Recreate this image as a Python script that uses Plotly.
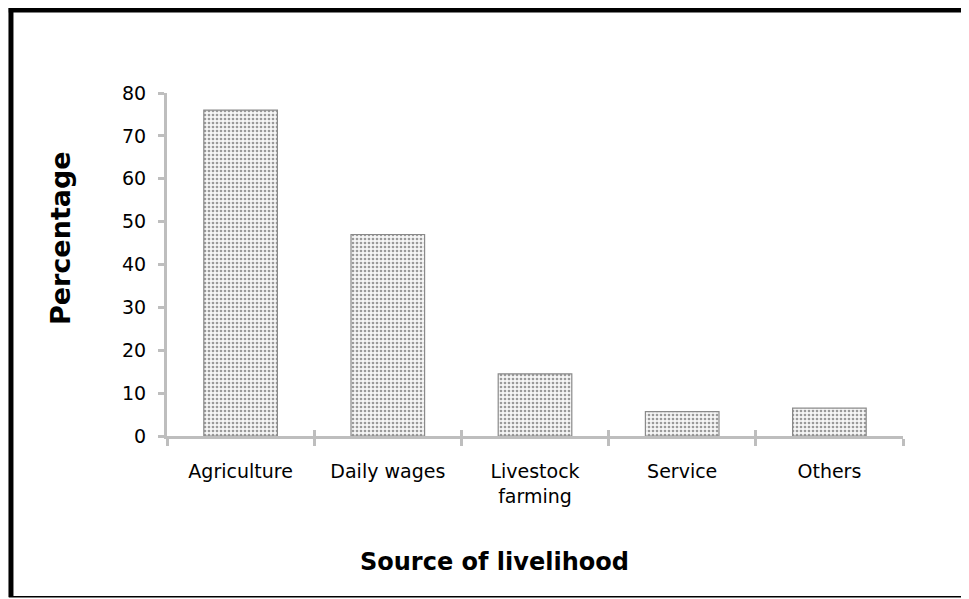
import plotly.graph_objects as go

categories = ["Agriculture", "Daily wages", "Livestock<br>farming", "Service", "Others"]
values = [76, 47, 14.5, 5.7, 6.5]
y_ticks = [0, 10, 20, 30, 40, 50, 60, 70, 80]

fig = go.Figure()
fig.add_trace(go.Bar(
    x=categories, y=values, width=0.5,
    marker=dict(
        color="#f6f6f6",
        line=dict(color="#8a8a8a", width=1.2),
        pattern=dict(shape=".", fgcolor="#9a9a9a", bgcolor="#f6f6f6", size=4, solidity=0.35, fillmode="replace"),
    ),
    hoverinfo="skip",
))
# invisible helper trace so a second (overlaid) x axis can draw the inward half of the crossing ticks
fig.add_trace(go.Scatter(x=categories, y=values, xaxis="x2", mode="markers",
                         marker=dict(opacity=0), hoverinfo="skip", showlegend=False))

font_fam = "DejaVu Sans, Verdana, sans-serif"
axis_grey = "#bebebe"
fig.update_layout(
    width=961, height=591,
    margin=dict(l=159, r=66, t=85, b=163),
    paper_bgcolor="white", plot_bgcolor="white",
    showlegend=False,
    font=dict(family=font_fam, size=19, color="black"),
    xaxis=dict(
        showline=True, linecolor=axis_grey, linewidth=3,
        ticks="outside", tickson="boundaries", ticklen=7, tickwidth=3, tickcolor=axis_grey,
        tickfont=dict(size=19), ticklabelstandoff=16, showgrid=False, range=[-0.5, 4.5],
    ),
    xaxis2=dict(
        overlaying="x", anchor="y", side="bottom", type="category",
        showline=False, ticks="inside", tickson="boundaries", ticklen=6, tickwidth=3,
        tickcolor=axis_grey, showticklabels=False, showgrid=False, range=[-0.5, 4.5],
    ),
    yaxis=dict(
        range=[0, 80], tickvals=y_ticks, showline=True, linecolor=axis_grey, linewidth=3,
        ticks="outside", ticklen=6, tickwidth=3, tickcolor=axis_grey,
        tickfont=dict(size=19), ticklabelstandoff=8, showgrid=False, zeroline=False,
    ),
    annotations=[
        dict(text="<b>Percentage</b>", xref="paper", yref="paper", x=-0.1454, y=0.577,
             textangle=-90, xanchor="center", yanchor="middle", showarrow=False,
             font=dict(size=27)),
        dict(text="<b>Source of livelihood</b>", xref="paper", yref="paper", x=0.4443, y=-0.368,
             xanchor="center", yanchor="middle", showarrow=False, font=dict(size=24)),
    ],
    shapes=[
        dict(type="line", xref="paper", yref="paper", x0=-0.212, x1=-0.212, y0=1.248, y1=-0.469,
             line=dict(color="black", width=5)),
        dict(type="line", xref="paper", yref="paper", x0=-0.215, x1=1.1, y0=1.242, y1=1.242,
             line=dict(color="black", width=5)),
        dict(type="line", xref="paper", yref="paper", x0=-0.215, x1=1.1, y0=-0.469, y1=-0.469,
             line=dict(color="black", width=1.5)),
    ],
)

fig.write_html("out.html")
